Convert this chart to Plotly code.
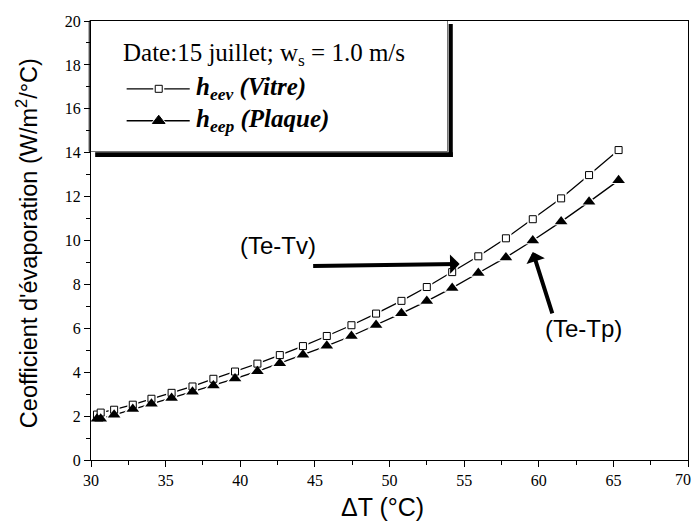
import plotly.graph_objects as go

# ---- data ----
delta_T = [30.4, 30.65, 31.55, 32.8, 34.05, 35.4, 36.8, 38.2, 39.65, 41.15, 42.65,
           44.2, 45.8, 47.45, 49.1, 50.8, 52.5, 54.2, 55.95, 57.8, 59.6, 61.5, 63.37, 65.35]
h_eev = [2.07, 2.16, 2.29, 2.52, 2.79, 3.06, 3.35, 3.70, 4.03, 4.39, 4.78,
         5.19, 5.65, 6.14, 6.67, 7.25, 7.88, 8.56, 9.28, 10.10, 10.97, 11.92, 12.98, 14.12]
h_eep = [1.88, 1.88, 2.06, 2.32, 2.56, 2.83, 3.11, 3.39, 3.71, 4.04, 4.41,
         4.79, 5.20, 5.65, 6.15, 6.68, 7.24, 7.84, 8.52, 9.23, 10.00, 10.86, 11.76, 12.74]
x_ticks = [30, 35, 40, 45, 50, 55, 60, 65, 70]
y_ticks = [0, 2, 4, 6, 8, 10, 12, 14, 16, 18, 20]

SERIF = "Liberation Serif"
SANS = "Liberation Sans"

fig = go.Figure()

# lines
for ys in (h_eev, h_eep):
    fig.add_trace(go.Scatter(x=delta_T, y=ys, mode="lines",
                             line=dict(color="black", width=1.3),
                             showlegend=False, hoverinfo="skip"))
# white halos (gap around markers)
fig.add_trace(go.Scatter(x=delta_T, y=h_eev, mode="markers",
                         marker=dict(symbol="square", size=11, color="white",
                                     line=dict(width=0)), showlegend=False, hoverinfo="skip"))
fig.add_trace(go.Scatter(x=delta_T, y=h_eep, mode="markers",
                         marker=dict(symbol="triangle-up", size=15, color="white",
                                     line=dict(width=0)), showlegend=False, hoverinfo="skip"))
# markers
fig.add_trace(go.Scatter(x=delta_T, y=h_eev, mode="markers", name="h_eev (Vitre)",
                         marker=dict(symbol="square", size=7, color="white",
                                     line=dict(color="black", width=1)), showlegend=False))
fig.add_trace(go.Scatter(x=delta_T, y=h_eep, mode="markers", name="h_eep (Plaque)",
                         marker=dict(symbol="triangle-up", size=11, color="black",
                                     line=dict(color="black", width=0)), showlegend=False))

# ---- legend samples on an auxiliary 0..1 axis spanning the legend box ----
leg_rows = [0.48, 0.235]
leg_line_x = [0.1, 0.277]
leg_mark_x = 0.19
for row, sym, size, fill, halo in ((leg_rows[0], "square", 7, "white", 11),
                                   (leg_rows[1], "triangle-up", 11, "black", 15)):
    fig.add_trace(go.Scatter(x=leg_line_x, y=[row, row], mode="lines",
                             line=dict(color="black", width=1.3), xaxis="x2", yaxis="y2",
                             showlegend=False, hoverinfo="skip"))
    fig.add_trace(go.Scatter(x=[leg_mark_x], y=[row], mode="markers",
                             marker=dict(symbol=sym, size=halo, color="white"),
                             xaxis="x2", yaxis="y2", showlegend=False, hoverinfo="skip"))
    fig.add_trace(go.Scatter(x=[leg_mark_x], y=[row], mode="markers",
                             marker=dict(symbol=sym, size=size, color=fill,
                                         line=dict(color="black", width=1)),
                             xaxis="x2", yaxis="y2", showlegend=False, hoverinfo="skip"))

axis_common = dict(showline=True, linecolor="black", linewidth=1.2, mirror=True,
                   ticks="outside", tickcolor="black", tickwidth=1.2, ticklen=6,
                   showgrid=False, zeroline=False,
                   tickfont=dict(family=SERIF, size=16, color="black"))

fig.update_layout(
    width=693, height=528,
    margin=dict(l=91, r=5, t=21, b=68),
    paper_bgcolor="white", plot_bgcolor="white",
    showlegend=False,
    xaxis=dict(range=[30, 70], tickvals=x_ticks,
               minor=dict(dtick=2.5, ticks="outside", ticklen=4, tickcolor="black", tickwidth=1.2),
               **axis_common),
    yaxis=dict(range=[0, 20], tickvals=y_ticks,
               minor=dict(dtick=1, ticks="outside", ticklen=4, tickcolor="black", tickwidth=1.2),
               **axis_common),
    xaxis2=dict(domain=[0, 0.597], range=[0, 1], visible=False, anchor="y2"),
    yaxis2=dict(domain=[0.703, 1], range=[0, 1], visible=False, anchor="x2"),
)

# last x tick label (clipped at the page edge in the reference) kept inside the page
fig.add_annotation(xref="paper", yref="paper", x=1, xshift=5, y=0, yshift=-9,
                   xanchor="right", yanchor="top", text=str(x_ticks[-1]), showarrow=False,
                   font=dict(family=SERIF, size=16, color="black"))

# legend box + shadow
fig.add_shape(type="rect", xref="paper", yref="paper", x0=-0.003, x1=0.597, y0=0.703, y1=1.0,
              line=dict(color="black", width=1), fillcolor="white", layer="below")
fig.add_shape(type="rect", xref="paper", yref="paper", x0=0.599, x1=0.606, y0=0.690, y1=0.993,
              line=dict(width=0), fillcolor="black")
fig.add_shape(type="rect", xref="paper", yref="paper", x0=0.007, x1=0.606, y0=0.690, y1=0.701,
              line=dict(width=0), fillcolor="black")

# legend texts
fig.add_annotation(xref="x2", yref="y2", x=0.083, y=0.745, xanchor="left", yanchor="middle",
                   text="Date:15 juillet; w<sub>s</sub> = 1.0 m/s", showarrow=False,
                   font=dict(family=SERIF, size=25, color="black"))
fig.add_annotation(xref="x2", yref="y2", x=0.29, y=leg_rows[0], xanchor="left", yanchor="middle",
                   text="<b><i>h<sub>eev</sub> (Vitre)</i></b>", showarrow=False,
                   font=dict(family=SERIF, size=25, color="black"))
fig.add_annotation(xref="x2", yref="y2", x=0.29, y=leg_rows[1], xanchor="left", yanchor="middle",
                   text="<b><i>h<sub>eep</sub> (Plaque)</i></b>", showarrow=False,
                   font=dict(family=SERIF, size=25, color="black"))

# axis titles
fig.add_annotation(xref="paper", yref="paper", x=0.489, y=0, yshift=-47, xanchor="center",
                   yanchor="middle", text="ΔT (°C)", showarrow=False,
                   font=dict(family=SANS, size=25, color="black"))
fig.add_annotation(xref="paper", yref="paper", x=0, xshift=-64, y=0.494, xanchor="center",
                   yanchor="middle", text="Ceofficient d'évaporation (W/m<sup>2</sup>/°C)",
                   textangle=-90, showarrow=False,
                   font=dict(family=SANS, size=23.5, color="black"))

# arrows and labels
fig.add_annotation(x=54.7, y=8.93, ax=-148, ay=2, showarrow=True, arrowhead=1,
                   arrowsize=0.8, arrowwidth=4, arrowcolor="black", text="")
fig.add_annotation(x=59.6, y=9.48, ax=20, ay=63, showarrow=True, arrowhead=1,
                   arrowsize=0.8, arrowwidth=4, arrowcolor="black", text="")
fig.add_annotation(x=42.5, y=9.79, text="(Te-Tv)", showarrow=False,
                   font=dict(family=SANS, size=24, color="black"))
fig.add_annotation(x=63.0, y=6.01, text="(Te-Tp)", showarrow=False,
                   font=dict(family=SANS, size=24, color="black"))

fig.write_html("out.html")
